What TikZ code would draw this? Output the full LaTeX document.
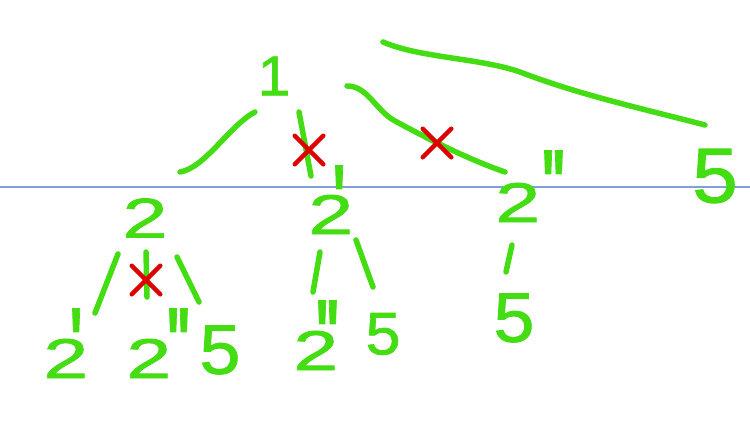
\documentclass[tikz,border=0pt]{standalone}
\usepackage{fontspec}
\usepackage{graphicx}
\newfontfamily\handfont[FakeStretch=1.45,FakeBold=1.2]{Liberation Sans}
\newfontfamily\handfive[FakeStretch=1.05,FakeBold=1.2]{Liberation Sans}
\usetikzlibrary{shapes.misc}
\definecolor{pen}{RGB}{68,220,18}
\definecolor{strike}{RGB}{222,0,0}
\definecolor{rule}{RGB}{130,160,215}
\newcommand{\pr}{\scalebox{1}[1.9]{\textquotesingle}}

\begin{document}
\begin{tikzpicture}[
  x=1pt, y=-1pt,
  num/.style  ={text=pen, inner sep=0pt, font=\handfont\fontsize{56}{56}\selectfont},
  nump/.style ={num, anchor=base west},
  five/.style ={num, font=\handfive\fontsize{70}{70}\selectfont},
  edge/.style ={draw=pen, line width=5.5pt, line cap=round, line join=round},
  nope/.style ={cross out, draw=strike, line width=4.5pt, minimum size=24pt,
                inner sep=0pt, line cap=round},
  sep/.style  ={draw=rule, line width=1.4pt},
]

\useasboundingbox (0,0) rectangle (750,429);

\coordinate (sl) at (0,187);
\coordinate (sr) at (750,187);
\draw[sep] (sl) -- (sr);

% level 0 and 1
\node[num, font=\handfive\fontsize{56}{56}\selectfont] (n1) at (274,76) {1};
\node[num]  (n2)  at (145,218) {2};
\node[nump] (n2a) at (308,234) {2\kern-22pt\raisebox{-5pt}{\pr}};
\node[nump] (n2b) at (495,222) {2\kern0pt\raisebox{-2pt}{\pr\pr}};
\node[five, font=\handfive\fontsize{78}{78}\selectfont] (n5) at (715,176) {5};

% level 2
\node[nump] (b2a) at (43,378)  {2\kern-20pt\raisebox{-4pt}{\pr}};
\node[nump] (b2b) at (126,378) {2\kern-6pt\raisebox{-4pt}{\pr\pr}};
\node[five] (b5)  at (220,350) {5};
\node[nump] (c2b) at (293,370) {2\kern-24pt\raisebox{-4pt}{\pr\pr}};
\node[five, font=\handfive\fontsize{60}{60}\selectfont] (c5) at (383,334) {5};
\node[five] (d5)  at (514,318) {5};

% strokes
\coordinate (e1s) at (180,172);  \coordinate (e1t) at (255,112);
\coordinate (e2s) at (299,112);  \coordinate (e2t) at (311,176);
\coordinate (e3s) at (347,86);   \coordinate (e3t) at (505,172);
\coordinate (e4s) at (383,42);   \coordinate (e4t) at (705,125);
\coordinate (f1s) at (118,254);  \coordinate (f1t) at (95,313);
\coordinate (f2s) at (146,252);  \coordinate (f2t) at (147,297);
\coordinate (f3s) at (177,257);  \coordinate (f3t) at (199,302);
\coordinate (g1s) at (320,252);  \coordinate (g1t) at (313,292);
\coordinate (g2s) at (356,240);  \coordinate (g2t) at (373,287);
\coordinate (h1s) at (512,245);  \coordinate (h1t) at (506,272);

\draw[edge] (e1s) .. controls (205,168) and (230,125) .. (e1t);
\draw[edge] (e2s) -- (e2t);
\draw[edge] (e3s) .. controls (368,86) and (375,110) .. (395,121)
                  .. controls (430,140) and (470,160) .. (e3t);
\draw[edge] (e4s) .. controls (420,58) and (480,58) .. (520,72)
                  .. controls (580,95) and (640,108) .. (e4t);
\draw[edge] (f1s) -- (f1t);
\draw[edge] (f2s) -- (f2t);
\draw[edge] (f3s) -- (f3t);
\draw[edge] (g1s) -- (g1t);
\draw[edge] (g2s) -- (g2t);
\draw[edge] (h1s) -- (h1t);

% pruned
\node[nope] (x1) at (309,150) {};
\node[nope] (x2) at (437,143) {};
\node[nope] (x3) at (146,280) {};

\end{tikzpicture}
\end{document}
